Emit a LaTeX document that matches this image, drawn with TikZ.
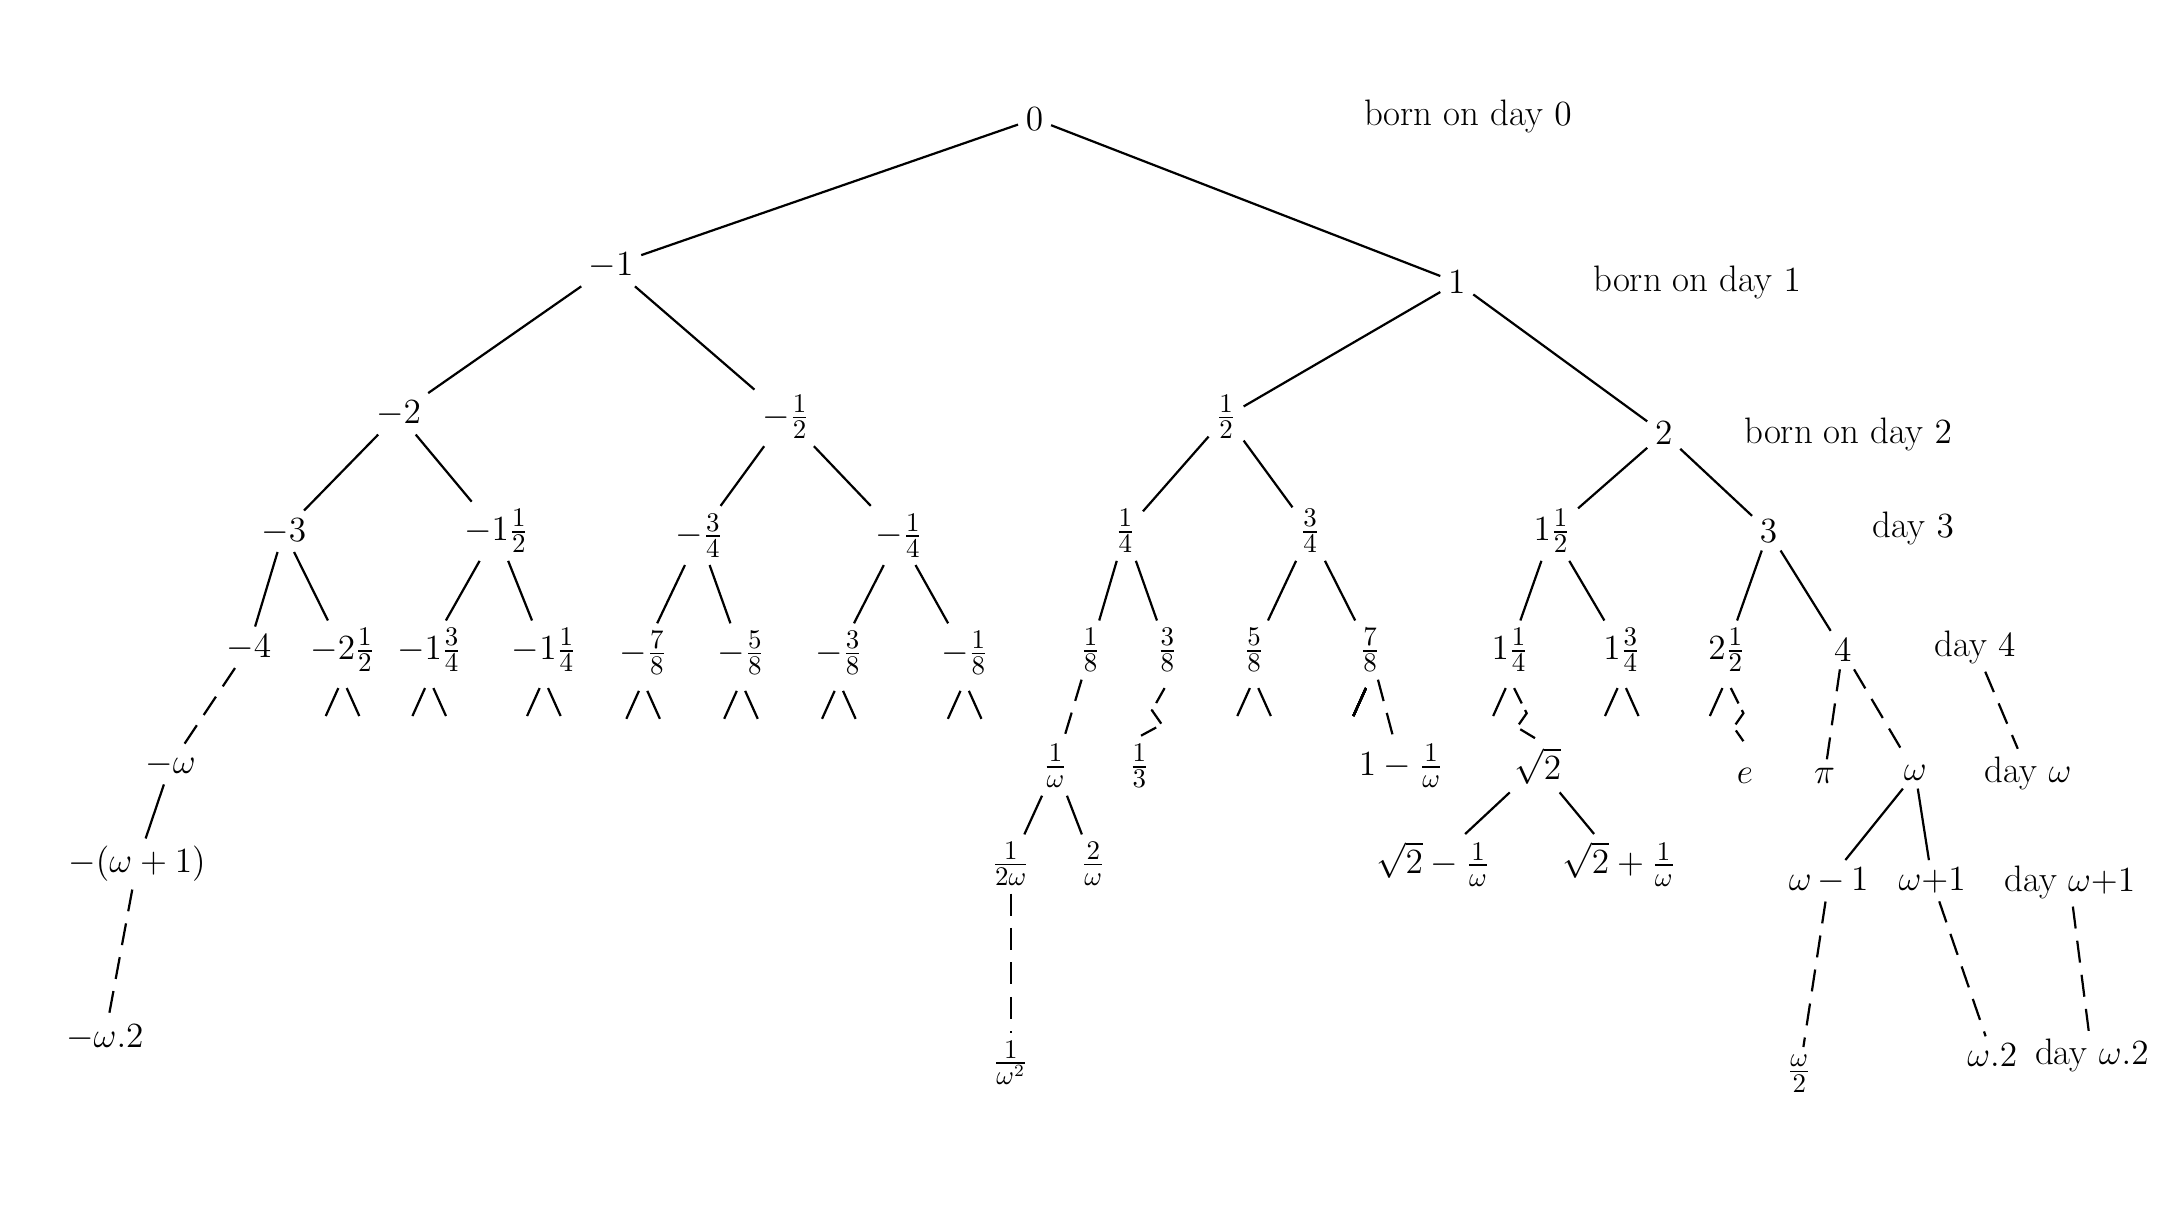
\documentclass[tikz,border=0pt]{standalone}
\usepackage{amsmath,amssymb}
\usepackage{tikz}
\usetikzlibrary{calc}

\tikzset{
  num/.style={inner sep=3pt, font=\fontsize{15}{18}\selectfont},
  daylab/.style={inner sep=3pt, anchor=west, font=\fontsize{15}{18}\selectfont},
  edge/.style={line width=0.9pt},
  dedge/.style={line width=0.9pt, dash pattern=on 9pt off 5pt}
}
% two short stubs below a node
\newcommand{\stubs}[1]{%
  \draw[edge] ($(#1.south)+(-3,6)$) -- ++(-9,20);
  \draw[edge] ($(#1.south)+(3,6)$) -- ++(9,20);}

\begin{document}
\begin{tikzpicture}[x=0.02cm,y=-0.02cm]
\useasboundingbox (0,0) rectangle (1560,878);
% levels 0 to 3
\node[num] (n0) at (740,85) {$0$};
\node[num] (nm1) at (437,190) {$-1$};
\node[num] (np1) at (1042,202) {$1$};
\node[num] (nm2) at (285,296) {$-2$};
\node[num] (nmh) at (562,298) {$-\frac12$};
\node[num] (nph) at (877,298) {$\frac12$};
\node[num] (np2) at (1190,310) {$2$};
\node[num] (nm3) at (203,380) {$-3$};
\node[num] (nmoh) at (355,380) {$-1\frac12$};
\node[num] (nmtq) at (500,383) {$-\frac34$};
\node[num] (nmq) at (643,383) {$-\frac14$};
\node[num] (npq) at (805,380) {$\frac14$};
\node[num] (nptq) at (937,380) {$\frac34$};
\node[num] (npoh) at (1110,380) {$1\frac12$};
\node[num] (np3) at (1265,380) {$3$};
% level 4
\node[num] (nm4) at (178,463) {$-4$};
\node[num] (nmtwh) at (245,465) {$-2\frac12$};
\node[num] (nmotq) at (307,465) {$-1\frac34$};
\node[num] (nmoq) at (389,465) {$-1\frac14$};
\node[num] (nm78) at (460,467) {$-\frac78$};
\node[num] (nm58) at (530,467) {$-\frac58$};
\node[num] (nm38) at (600,467) {$-\frac38$};
\node[num] (nm18) at (690,467) {$-\frac18$};
\node[num] (np18) at (780,465) {$\frac18$};
\node[num] (np38) at (835,465) {$\frac38$};
\node[num] (np58) at (897,465) {$\frac58$};
\node[num] (np78) at (980,465) {$\frac78$};
\node[num] (npoq) at (1080,465) {$1\frac14$};
\node[num] (npotq) at (1160,465) {$1\frac34$};
\node[num] (nptwh) at (1235,465) {$2\frac12$};
\node[num] (np4) at (1318,465) {$4$};
% beyond
\node[num] (nmw) at (122,547) {$-\omega$};
\node[num] (nmw1) at (98,618) {$-(\omega+1)$};
\node[num] (nmw2) at (75,742) {$-\omega.2$};
\node[num] (niw) at (755,548) {$\frac{1}{\omega}$};
\node[num] (ni2w) at (723,618) {$\frac{1}{2\omega}$};
\node[num] (n2iw) at (782,618) {$\frac{2}{\omega}$};
\node[num] (niww) at (723,760) {$\frac{1}{\omega^2}$};
\node[num] (nthird) at (815,548) {$\frac13$};
\node[num] (nomiw) at (1002,548) {$1-\frac{1}{\omega}$};
\node[num] (nrt) at (1100,548) {$\sqrt{2}$};
\node[num] (nrtm) at (1025,618) {$\sqrt{2}-\frac{1}{\omega}$};
\node[num] (nrtp) at (1158,618) {$\sqrt{2}+\frac{1}{\omega}$};
\node[num] (ne) at (1248,555) {$e$};
\node[num] (npi) at (1305,555) {$\pi$};
\node[num] (nw) at (1370,553) {$\omega$};
\node[num] (nwm) at (1308,630) {$\omega\,{-}\,1$};
\node[num] (nwp) at (1382,630) {$\omega{+}1$};
\node[num] (nwh) at (1287,768) {$\frac{\omega}{2}$};
\node[num] (nw2) at (1425,755) {$\omega.2$};
% day labels
\node[daylab] (d0) at (970,83) {born on day $0$};
\node[daylab] (d1) at (1134,202) {born on day $1$};
\node[daylab] (d2) at (1242,311) {born on day $2$};
\node[daylab] (d3) at (1334,378) {day $3$};
\node[daylab] (d4) at (1378,463) {day $4$};
\node[daylab] (dw) at (1414,553) {day $\omega$};
\node[daylab] (dw1) at (1428,631) {day $\omega{+}1$};
\node[daylab] (dw2) at (1450,755) {day $\omega.2$};

% solid edges
\foreach \a/\b in {n0/nm1,n0/np1,nm1/nm2,nm1/nmh,np1/nph,np1/np2,
  nm2/nm3,nm2/nmoh,nmh/nmtq,nmh/nmq,nph/npq,nph/nptq,np2/npoh,np2/np3,
  nm3/nm4,nm3/nmtwh,nmoh/nmotq,nmoh/nmoq,nmtq/nm78,nmtq/nm58,nmq/nm38,nmq/nm18,
  npq/np18,npq/np38,nptq/np58,nptq/np78,npoh/npoq,npoh/npotq,np3/nptwh,np3/np4,
  nmw/nmw1,niw/ni2w,niw/n2iw,nrt/nrtm,nrt/nrtp,nw/nwm,nw/nwp}
  \draw[edge] (\a) -- (\b);
% dashed edges
\foreach \a/\b in {nm4/nmw,nmw1/nmw2,np18/niw,ni2w/niww,np78/nomiw,
  np4/npi,np4/nw,nwm/nwh,nwp/nw2,d4/dw,dw1/dw2}
  \draw[dedge] (\a) -- (\b);
% stubs
\foreach \s in {nmtwh,nmotq,nmoq,nm78,nm58,nm38,nm18,np58,npotq}
  \stubs{\s}
\draw[edge] ($(np78.south)+(-3,6)$) -- ++(-9,20);
\draw[edge] ($(npoq.south)+(-3,6)$) -- ++(-9,20);
\draw[edge] ($(nptwh.south)+(-3,6)$) -- ++(-9,20);
% zigzag dashed edges
\draw[dedge, dash pattern=on 7pt off 3pt] ($(np38.south)+(-2,6)$) -- ++(-9,16) -- ++(7,10) -- (nthird.north);
\draw[dedge, dash pattern=on 7pt off 3pt] ($(npoq.south)+(3,6)$) -- ++(9,18) -- ++(-7,10) -- (nrt.north);
\draw[dedge, dash pattern=on 7pt off 3pt] ($(nptwh.south)+(3,6)$) -- ++(9,18) -- ++(-7,10) -- ++(7,10);
\end{tikzpicture}
\end{document}
